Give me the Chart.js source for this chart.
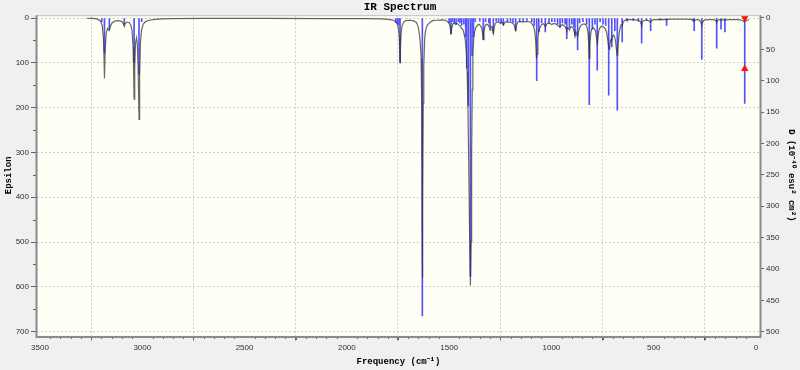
<!DOCTYPE html>
<html><head><meta charset="utf-8">
<script src="https://cdn.jsdelivr.net/npm/chart.js@4.4.1/dist/chart.umd.min.js"></script>
<style>html,body{margin:0;padding:0;background:#f0f0f0;overflow:hidden}canvas{display:block}</style>
</head><body>
<canvas id="c" width="800" height="370"></canvas>
<script>
// Broadened spectrum (frequency cm-1, epsilon)
const curveFreq = [3270,3240,3220,3205,3196,3190,3187,3185,3182,3177,3170,3164,3161,3156,3148,3135,3115,3100,3092,3088,3084,3075,3065,3056,3050,3045,3042,3040,3037,3033,3028,3024,3020,3016,3013,3009,3004,2996,2985,2965,2940,2900,2850,2700,2400,2100,1900,1830,1800,1780,1768,1760,1754,1748,1744,1741,1740,1738,1735,1730,1722,1712,1700,1685,1670,1660,1652,1646,1641,1637,1634,1632,1631,1629,1627,1624,1620,1617,1612,1605,1595,1580,1560,1535,1518,1508,1500,1495,1491,1487,1482,1476,1468,1460,1452,1446,1440,1433,1427,1421,1416,1412,1408,1404,1400,1396,1393,1390,1387,1384,1380,1376,1370,1362,1354,1346,1340,1336,1333,1330,1325,1318,1310,1304,1300,1296,1291,1287,1284,1280,1274,1265,1256,1248,1242,1238,1234,1230,1222,1212,1204,1196,1188,1182,1178,1175,1172,1166,1158,1148,1138,1128,1116,1104,1096,1088,1082,1077,1073,1070,1066,1061,1055,1048,1040,1034,1029,1024,1016,1008,1000,992,984,976,968,962,958,953,946,939,933,928,925,921,916,912,907,900,894,889,885,881,876,872,868,862,855,848,840,832,826,821,818,815,812,808,803,797,790,784,780,777,775,772,767,760,753,746,740,734,729,725,721,718,715,711,707,704,700,695,690,686,682,679,676,673,669,664,659,654,650,644,636,622,605,590,575,566,562,559,556,551,544,535,526,519,515,511,503,490,470,445,437,430,410,380,340,315,306,302,298,290,280,272,268,265,262,257,248,230,210,198,194,192,189,182,176,171,166,158,152,148,135,115,95,80,70,62,57,53,46,38,34];
const curveEps = [0.5,1,2.5,6,16,45,90,135,80,35,23,27,28,19,11,7,6,8,13,19,13,9,10,16,28,65,130,181,110,55,44,60,120,226,130,55,28,14,8,5,3,2,1.5,1,1,1.2,1.5,2,3,4,6,9,13,22,42,85,100,70,35,17,9,6,5,5.5,7,10,18,34,55,90,200,450,579,420,190,108,50,33,22,15,10,6,5,4,5,8,12,20,37,22,13,11,14,12,16,18,23,26,35,50,75,120,200,330,480,597,500,300,160,85,48,32,22,16,14,18,24,36,48,32,18,14,15,20,27,20,19,26,34,22,12,9,10,12,9,11,15,11,8,10,9,10,12,16,22,30,19,10,8,8,9,8,8,9,12,18,28,50,90,80,45,28,20,15,13,15,20,14,11,12,14,13,12,14,17,19,21,16,15,17,20,24,27,22,24,27,21,19,22,30,37,30,36,42,32,21,16,14,13,15,20,33,55,90,60,35,25,22,24,30,42,55,57,40,26,20,18,20,22,27,35,48,62,70,62,50,46,47,40,38,44,54,70,83,75,55,35,22,15,17,10,6,4,3.5,3.5,4,5,8,12,15,10,6,5,5,6,8,9,6,4,3.5,3.5,3,4,3,2.5,2.5,2.5,3,5,6,5,3.5,4,7,11,15,12,6,4,3.5,3.5,5,8,9,6,4,4,5,4,4,5,4,3.5,3.5,3.5,4,5,7,9,7,5,4,4];
// Stick spectrum (frequency cm-1, dipole strength D)
const stickFreq = [3198,3185,3161,3088,3040,3016,3003,1760,1752,1745,1740,1631,1500,1491,1484,1475,1466,1455,1447,1439,1428,1419,1414,1406,1396,1388,1381,1372,1350,1333,1322,1306,1300,1284,1270,1258,1246,1235,1215,1200,1188,1175,1155,1138,1120,1096,1084,1072,1062,1048,1030,1012,998,984,970,958,946,933,925,912,900,890,885,872,862,846,828,815,800,787,776,762,748,735,720,705,690,678,654,630,600,575,559,535,515,470,437,306,302,265,192,171,152,55];
const stickD = [6,55,18,10,70,90,6,7,9,12,70,475,8,25,6,8,10,6,8,12,10,30,80,140,412,60,30,6,5,35,6,8,14,24,5,6,8,12,6,5,7,20,6,5,4,6,12,100,22,8,22,8,6,6,10,14,8,10,33,16,10,14,28,51,8,6,10,138,18,10,83,6,10,12,123,46,20,147,38,5,4,5,40,4,20,3,12,6,20,66,48,18,22,136];
// Selected-mode markers
const markerFreq = [55, 55];
const markerD = [0, 81];
// Tick labels
const freqTicks = [0,500,1000,1500,2000,2500,3000,3500];
const epsTicks = [0,100,200,300,400,500,600,700];
const dTicks = [0,50,100,150,200,250,300,350,400,450,500];

const curveData = curveFreq.map((f,i)=>({x:f,y:curveEps[i]}));
const stickData = stickFreq.map((f,i)=>({x:f,y:stickD[i]}));
const markerData = markerFreq.map((f,i)=>({x:f,y:markerD[i]}));

const tickFont = {family:'Liberation Sans', size:8};
const titleFont = {family:'Liberation Mono', size:9, weight:'bold'};
const plainLabel = v => String(v);

const framePlugin = {
  id:'frame',
  beforeDraw(chart){
    const {ctx, chartArea:a} = chart;
    ctx.save();
    ctx.fillStyle='#f0f0f0'; ctx.fillRect(0,0,chart.width,chart.height);
    ctx.fillStyle='#fffff5'; ctx.fillRect(a.left,a.top,a.right-a.left,a.bottom-a.top);
    ctx.restore();
  },
  afterDraw(chart){
    const {ctx, chartArea:a, scales} = chart;
    ctx.save();
    // minor ticks
    ctx.strokeStyle='#606060'; ctx.lineWidth=1;
    ctx.beginPath();
    for(let v=50; v<3500; v+=50){
      if(v%500===0) continue;
      const px=Math.round(scales.x.getPixelForValue(v))+0.5;
      const len = v%250===0 ? 3.5 : 2.5;
      ctx.moveTo(px,a.bottom+1); ctx.lineTo(px,a.bottom+1+len);
    }
    for(let v=50; v<700; v+=100){
      const py=Math.round(scales.yE.getPixelForValue(v))+0.5;
      ctx.moveTo(a.left-1,py); ctx.lineTo(a.left-4,py);
    }
    ctx.stroke();
    // axis lines
    ctx.strokeStyle='#bdbdbd'; ctx.lineWidth=1;
    ctx.beginPath(); ctx.moveTo(a.left,a.top+0.5); ctx.lineTo(a.right,a.top+0.5); ctx.stroke();
    ctx.strokeStyle='#8a8a8a'; ctx.lineWidth=2;
    ctx.beginPath();
    ctx.moveTo(a.left-0.5,a.top); ctx.lineTo(a.left-0.5,a.bottom+1.5);
    ctx.lineTo(a.right+0.5,a.bottom+1.5); ctx.lineTo(a.right+0.5,a.top);
    ctx.stroke();
    ctx.restore();
  }
};

new Chart(document.getElementById('c'), {
  type:'line',
  data:{datasets:[
    {type:'scatter', data:markerData, xAxisID:'x', yAxisID:'yD', order:0,
     pointStyle:'triangle', rotation:[180,0], radius:3.5, pointRadius:3.5,
     backgroundColor:'#ff1010', borderColor:'#ff1010', borderWidth:1},
    {type:'line', data:curveData, xAxisID:'x', yAxisID:'yE', order:1,
     borderColor:'rgba(45,45,45,0.72)', borderWidth:1.2, pointRadius:0, tension:0, fill:false},
    {type:'bar', data:stickData, xAxisID:'x', yAxisID:'yD', order:2,
     backgroundColor:'#5252ff', borderWidth:0, barThickness:1, grouped:false}
  ]},
  options:{
    responsive:false, animation:false, devicePixelRatio:1,
    layout:{padding:0},
    plugins:{
      legend:{display:false}, tooltip:{enabled:false},
      title:{display:true, text:'IR Spectrum', color:'#000',
        font:{family:'Liberation Mono', size:11, weight:'bold', lineHeight:1.2}, padding:{top:1,bottom:1}}
    },
    scales:{
      x:{type:'linear', reverse:true, min:-19.6, max:3514.7, offset:false,
        afterBuildTicks:s=>{s.ticks=freqTicks.map(v=>({value:v}));},
        afterFit:s=>{s.height=34.5;},
        ticks:{font:tickFont, color:'#303030', maxRotation:0, autoSkip:false, padding:2, callback:plainLabel},
        grid:{color:'#cfcfcf', lineWidth:1, borderDash:[2,2], tickColor:'#606060', tickLength:5, tickBorderDash:[]},
        border:{display:false, dash:[2,2]},
        title:{display:true, text:'Frequency (cm⁻¹)', color:'#000', font:titleFont, padding:{top:0,bottom:3}}
      },
      yE:{type:'linear', position:'left', reverse:true, min:-6.25, max:708.5,
        afterBuildTicks:s=>{s.ticks=epsTicks.map(v=>({value:v}));},
        afterFit:s=>{s.width=37;},
        ticks:{font:tickFont, color:'#303030', padding:2, callback:plainLabel},
        grid:{color:'#cfcfcf', lineWidth:1, borderDash:[2,2], tickColor:'#606060', tickLength:6, tickBorderDash:[]},
        border:{display:false, dash:[2,2]},
        title:{display:true, text:'Epsilon', color:'#000', font:titleFont, padding:{top:3,bottom:0}}
      },
      yD:{type:'linear', position:'right', reverse:true, min:-4.46, max:506.07,
        afterBuildTicks:s=>{s.ticks=dTicks.map(v=>({value:v}));},
        afterFit:s=>{s.width=40;},
        ticks:{font:tickFont, color:'#303030', padding:2, callback:plainLabel},
        grid:{drawOnChartArea:false, tickColor:'#606060', tickLength:4},
        border:{display:false},
        title:{display:true, text:'D (10⁻⁴⁰ esu² cm²)', color:'#000', font:titleFont, padding:{top:3,bottom:6}}
      }
    }
  },
  plugins:[framePlugin]
});
</script>
</body></html>
